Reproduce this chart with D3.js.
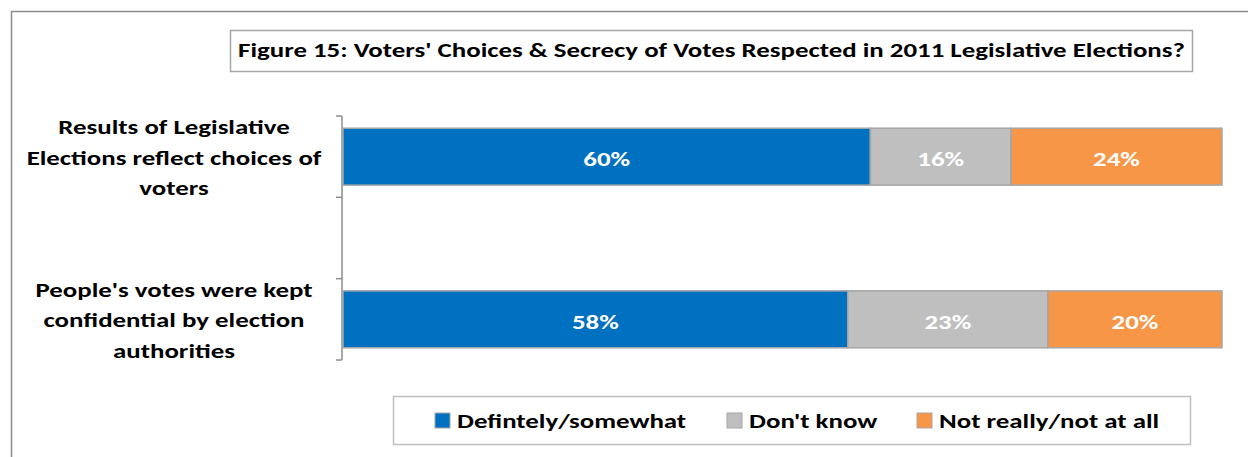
<!DOCTYPE html>
<html>
<head>
<meta charset="utf-8">
<script src="https://cdn.jsdelivr.net/npm/d3@7"></script>
<style>
  html, body { margin: 0; padding: 0; background: #fff; }
  svg { display: block; }
  text { font-family: Carlito, Calibri, Lato, "Open Sans", sans-serif; font-weight: bold; }
</style>
</head>
<body>
<svg id="chart" width="1248" height="457"></svg>
<script>
// Survey questions (one bar each)
const questions = [
  "Results of Legislative Elections reflect choices of voters",
  "People's votes were kept confidential by election authorities"
];
// Wrapped lines for the category labels
const questionLines = [
  ["Results of Legislative", "Elections reflect choices of", "voters"],
  ["People's votes were kept", "confidential by election", "authorities"]
];
// Response groups
const responses = ["Defintely/somewhat", "Don't know", "Not really/not at all"];
// Percentages per question, in the order of `responses`
const definitelySomewhat = [60, 58];
const dontKnow = [16, 23];
const notReally = [24, 20];
const colors = ["#0070C0", "#BFBFBF", "#F79646"];
const titleText = "Figure 15: Voters' Choices & Secrecy of Votes Respected in 2011 Legislative Elections?";

const rows = questions.map((q, i) => ({
  question: q,
  [responses[0]]: definitelySomewhat[i],
  [responses[1]]: dontKnow[i],
  [responses[2]]: notReally[i]
}));

const FONT = 21;        // all chart text shares one size
const WIDEN = 1.28;     // horizontal stretch applied to the text

// Stretch a text element horizontally about its own anchor x
function widen(sel, ax) {
  sel.attr("transform", `translate(${ax},0) scale(${WIDEN},1) translate(${-ax},0)`);
}

const svg = d3.select("#chart");

// Outer chart frame (only top and left edges fall inside the view)
svg.append("path")
  .attr("d", "M11.5,457 V11.5 H1248")
  .attr("fill", "none")
  .attr("stroke", "#8C8C8C")
  .attr("stroke-width", 1.5);

// Title box
svg.append("rect")
  .attr("x", 230.5).attr("y", 30.5)
  .attr("width", 962).attr("height", 41)
  .attr("fill", "#fff").attr("stroke", "#A6A6A6").attr("stroke-width", 1.5);
svg.append("text")
  .attr("x", 711.5).attr("y", 57)
  .attr("text-anchor", "middle")
  .attr("font-size", FONT)
  .attr("fill", "#000")
  .text(titleText)
  .call(widen, 711.5);

// The category axis keeps an empty slot between the two questions
const gap = "\u00a0";
const yDomain = [questions[0], gap, questions[1]];
const y = d3.scaleBand().domain(yDomain).range([116, 360]).paddingInner(0).paddingOuter(0);
const barPad = 0.15;
const x = d3.scaleLinear().domain([0, 1]).range([343, 1222]);

const stack = d3.stack().keys(responses).offset(d3.stackOffsetExpand);
const series = stack(rows);

// Category axis with ticks between categories
const axis = svg.append("g");
const edges = [...yDomain.map(d => y(d)), y.range()[1]];
axis.append("line")
  .attr("x1", 342).attr("x2", 342)
  .attr("y1", edges[0]).attr("y2", edges[edges.length - 1])
  .attr("stroke", "#8C8C8C").attr("stroke-width", 1.5);
axis.selectAll("line.tick").data(edges).join("line")
  .attr("class", "tick")
  .attr("x1", 336).attr("x2", 342)
  .attr("y1", d => d).attr("y2", d => d)
  .attr("stroke", "#8C8C8C").attr("stroke-width", 1.5);

// Stacked segments
const barTop = d => y(d.data.question) + y.bandwidth() * barPad;
const barH = y.bandwidth() * (1 - 2 * barPad);

const layers = svg.selectAll("g.layer").data(series).join("g")
  .attr("class", "layer")
  .attr("fill", (d, i) => colors[i]);

layers.selectAll("rect").data(d => d).join("rect")
  .attr("x", d => x(d[0]))
  .attr("y", barTop)
  .attr("width", d => x(d[1]) - x(d[0]))
  .attr("height", barH)
  .attr("stroke", "#A6A6A6")
  .attr("stroke-width", 1.5);

// Value labels inside each segment
layers.each(function (s, si) {
  d3.select(this).selectAll("text").data(s).join("text")
    .attr("x", d => (x(d[0]) + x(d[1])) / 2)
    .attr("y", d => barTop(d) + barH / 2)
    .attr("dy", "0.45em")
    .attr("text-anchor", "middle")
    .attr("font-size", FONT)
    .attr("fill", "#fff")
    .text(d => d.data[responses[si]] + "%")
    .each(function (d) { widen(d3.select(this), (x(d[0]) + x(d[1])) / 2); });
});

// Category labels
const labelX = 174;
const labelG = svg.append("g");
questions.forEach((q, i) => {
  const cy = y(q) + y.bandwidth() / 2;
  const lines = questionLines[i];
  const lh = 30.5;
  labelG.append("text")
    .attr("text-anchor", "middle")
    .attr("font-size", FONT)
    .attr("fill", "#000")
    .call(widen, labelX)
    .selectAll("tspan").data(lines).join("tspan")
    .attr("x", labelX)
    .attr("y", (d, k) => cy + (k - (lines.length - 1) / 2) * lh)
    .attr("dy", "0.38em")
    .text(d => d);
});

// Legend
svg.append("rect")
  .attr("x", 393.5).attr("y", 396.5)
  .attr("width", 797).attr("height", 48)
  .attr("fill", "#fff").attr("stroke", "#BFBFBF").attr("stroke-width", 1.5);
const legendX = [435, 727, 917];
const legend = svg.selectAll("g.legend").data(responses).join("g")
  .attr("class", "legend")
  .attr("transform", (d, i) => `translate(${legendX[i]},413)`);
legend.append("rect")
  .attr("width", 15).attr("height", 15)
  .attr("fill", (d, i) => colors[i])
  .attr("stroke", "#A6A6A6").attr("stroke-width", 1);
legend.append("text")
  .attr("x", 22).attr("y", 7.5).attr("dy", "0.36em")
  .attr("font-size", FONT)
  .attr("fill", "#000")
  .text(d => d)
  .call(widen, 22);
</script>
</body>
</html>
